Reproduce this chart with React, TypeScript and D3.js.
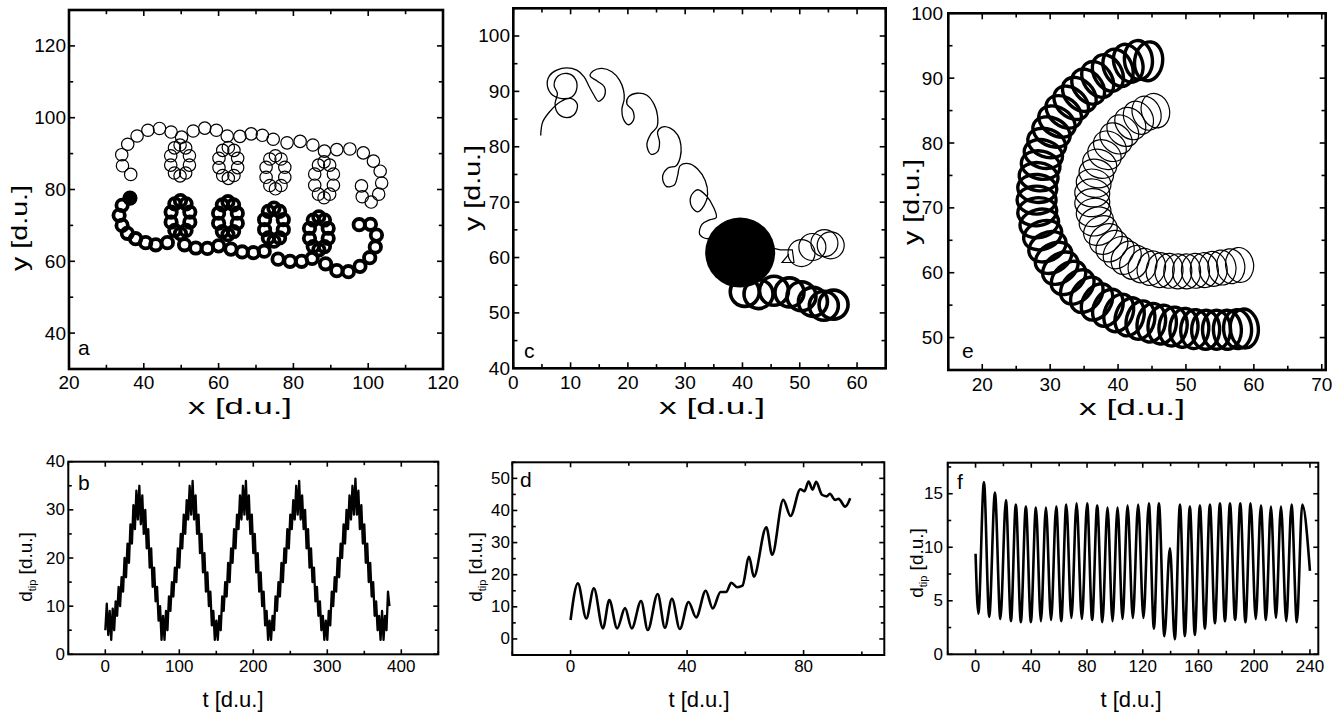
import React from 'react';
import * as d3 from 'd3';

type Pt = [number, number];

const FONT = '"Liberation Sans", Arial, Helvetica, sans-serif';

// ---------- panel a: loop centres of the two tip paths ----------
const aThinLoops: Pt[] = [
  [36.5, 84.2], [34.3, 86.6], [34.1, 89.7], [35.7, 92.6], [38.2, 94.9], [41.1, 96.5], [44.2, 97.0], [47.3, 96.0], [50.1, 94.6],
  [49.7, 92.4], [51.2, 91.6], [52.2, 89.4], [52.2, 86.8], [51.2, 84.6], [49.7, 83.8], [48.2, 84.6], [47.2, 86.8], [47.2, 89.4], [48.2, 91.6],
  [53.2, 96.3], [56.3, 97.1], [59.4, 96.5], [62.3, 94.9],
  [62.6, 91.7], [64.1, 90.9], [65.1, 88.7], [65.1, 86.1], [64.1, 83.9], [62.6, 83.1], [61.1, 83.9], [60.1, 86.1], [60.1, 88.7], [61.1, 90.9],
  [65.7, 94.8], [68.7, 95.5], [71.7, 95.1], [74.6, 94.0],
  [75.2, 89.4], [76.7, 88.5], [77.7, 86.2], [77.7, 83.4], [76.7, 81.1], [75.2, 80.2], [73.7, 81.1], [72.7, 83.4], [72.7, 86.2], [73.7, 88.5],
  [78.3, 93.0], [81.8, 93.4], [85.2, 92.4], [88.3, 90.7],
  [88.2, 87.7], [89.7, 86.8], [90.7, 84.3], [90.7, 81.2], [89.7, 78.7], [88.2, 77.7], [86.7, 78.7], [85.7, 81.2], [85.7, 84.3], [86.7, 86.8],
  [91.6, 91.1], [95.1, 91.3], [98.7, 90.2], [101.4, 87.9], [103.2, 85.1], [103.6, 81.8], [102.8, 78.7], [100.8, 76.5], [98.4, 78.0], [98.2, 81.0]
];

const aThickStart: Pt = [36.3, 77.6];
const aThickLoops: Pt[] = [
  [36.3, 77.6], [34.2, 75.6], [33.4, 72.8], [34.2, 70.0], [35.6, 67.8], [37.8, 66.3], [40.5, 65.2], [43.2, 64.6], [46.3, 65.2],
  [49.8, 67.7], [51.3, 68.6], [52.3, 70.9], [52.3, 73.7], [51.3, 76.0], [49.8, 76.9], [48.3, 76.0], [47.3, 73.7], [47.3, 70.9], [48.3, 68.6],
  [50.9, 64.6], [53.9, 63.7], [57.0, 63.6], [60.0, 64.3],
  [62.5, 67.4], [64.0, 68.3], [65.0, 70.6], [65.0, 73.4], [64.0, 75.7], [62.5, 76.6], [61.0, 75.7], [60.0, 73.4], [60.0, 70.6], [61.0, 68.3],
  [63.3, 63.4], [66.3, 62.6], [69.3, 62.4], [72.2, 62.8],
  [74.8, 65.6], [76.3, 66.5], [77.3, 68.8], [77.3, 71.6], [76.3, 73.9], [74.8, 74.8], [73.3, 73.9], [72.3, 71.6], [72.3, 68.8], [73.3, 66.5],
  [75.9, 60.6], [79.1, 60.0], [82.2, 60.0], [85.0, 60.8],
  [86.8, 63.2], [88.3, 64.1], [89.3, 66.4], [89.3, 69.2], [88.3, 71.5], [86.8, 72.4], [85.3, 71.5], [84.3, 69.2], [84.3, 66.4], [85.3, 64.1],
  [88.6, 59.3], [91.6, 57.4], [94.7, 57.1], [97.8, 58.6], [100.4, 61.0], [101.9, 64.0], [102.2, 67.3], [100.6, 70.3], [97.6, 70.2]
];

// ---------- panel c ----------
const cThinPath: Pt[] = [
  [4.78, 82.04], [5.13, 84.46], [6.3, 86.27], [8.16, 88.09], [10.2, 88.69], [11.19, 87.6], [10.61, 85.79], [9.04, 85.3],
  [7.7, 86.15], [7.29, 87.79], [7.7, 89.6], [7.12, 91.11], [7.87, 92.81], [9.45, 93.23], [10.79, 92.32], [11.08, 90.51],
  [10.2, 89.0], [8.46, 88.69], [6.88, 89.3], [5.95, 91.0], [6.3, 92.81], [7.58, 93.83], [9.33, 94.26], [11.08, 93.83],
  [12.36, 92.63], [13.12, 91.11], [13.99, 89.48], [14.87, 88.21], [15.91, 89.18], [15.86, 90.87], [14.69, 91.84], [13.41, 92.81],
  [13.99, 93.71], [15.45, 94.14], [17.2, 93.53], [18.54, 92.02], [19.24, 90.2], [19.35, 88.57], [18.95, 86.76], [19.24, 84.94],
  [20.11, 83.97], [20.98, 84.82], [20.87, 86.52], [19.82, 87.73], [20.11, 89.0], [21.57, 89.66], [23.32, 89.3], [24.6, 87.6],
  [25.18, 85.55], [25.06, 83.55], [24.02, 82.34], [23.32, 80.34], [24.02, 78.65], [25.18, 79.13], [25.53, 80.83], [25.18, 82.64],
  [25.94, 83.55], [27.4, 83.37], [28.68, 82.16], [29.26, 80.22], [29.14, 78.11], [28.44, 76.59], [26.93, 76.11], [26.05, 74.48],
  [26.7, 72.84], [28.1, 73.09], [28.68, 74.78], [29.14, 76.59], [30.6, 76.96], [32.17, 75.99], [33.51, 73.87], [33.92, 71.45],
  [33.34, 69.46], [32.17, 68.25], [31.12, 69.21], [31.0, 71.03], [32.17, 72.24], [33.69, 71.15], [34.97, 69.03], [35.43, 67.22],
  [34.27, 66.79], [32.93, 66.0], [32.52, 64.19], [33.8, 63.41], [35.55, 64.19], [37.3, 65.1]
];
const cBlob: Pt = [39.6, 60.9];
const cThinTail: Pt[] = [[44.9, 61.8], [46.6, 61.4], [48.7, 61.4], [49.0, 59.1], [46.9, 59.1], [48.1, 60.6]];
const cThinLoops: Pt[] = [[50.3, 60.8], [52.2, 61.9], [54.3, 62.6], [55.4, 62.2]];
const cThickLoops: Pt[] = [[40.4, 53.8], [42.8, 53.4], [45.5, 54.0], [48.2, 53.7], [50.3, 53.0], [52.3, 52.0], [54.2, 51.3], [55.9, 51.5]];

// ---------- panel e ----------
const eThickLoops: Pt[] = [
  [44.5, 92.6], [43.0, 92.8], [41.5, 92.3], [40.0, 91.6], [38.5, 90.8], [37.0, 89.8], [35.6, 88.7], [34.3, 87.5], [33.1, 86.2],
  [32.0, 84.8], [31.0, 83.3], [30.2, 81.7], [29.5, 80.0], [29.0, 78.3], [28.6, 76.6], [28.3, 74.8], [28.1, 73.0], [28.0, 71.2],
  [28.1, 69.4], [28.4, 67.6], [28.9, 65.8], [29.6, 64.0], [30.5, 62.3], [31.5, 60.7], [32.7, 59.2], [34.0, 57.8], [35.4, 56.6],
  [36.9, 55.5], [38.5, 54.6], [40.1, 53.8], [41.7, 53.2], [43.3, 52.7], [44.9, 52.3], [46.5, 52.0], [48.1, 51.7], [49.7, 51.5],
  [51.3, 51.3], [52.9, 51.2], [54.5, 51.2], [56.1, 51.2], [57.6, 51.3], [58.6, 51.4]
];
const eThinLoops: Pt[] = [
  [45.5, 85.0], [44.2, 84.6], [43.0, 83.9], [41.8, 83.0], [40.7, 81.9], [39.7, 80.7], [38.8, 79.5], [38.0, 78.2], [37.3, 76.8],
  [36.8, 75.3], [36.4, 73.8], [36.2, 72.3], [36.2, 70.8], [36.4, 69.3], [36.8, 67.9], [37.4, 66.5], [38.2, 65.2], [39.1, 64.1],
  [40.1, 63.1], [41.2, 62.3], [42.4, 61.6], [43.6, 61.1], [44.9, 60.7], [46.2, 60.4], [47.5, 60.3], [48.8, 60.2], [50.1, 60.2],
  [51.4, 60.3], [52.7, 60.4], [54.0, 60.6], [55.3, 60.8], [56.6, 61.0], [57.9, 61.2]
];

// ---------- panel b: d_tip(t) ----------
const bSeries: Pt[] = [
  [0, 5], [2, 10.5], [4, 4], [6, 9], [8, 3], [10, 9.5], [12, 5], [14, 11], [16, 8], [18, 14], [20, 10], [22, 16], [24, 13], [26, 20],
  [28, 16], [30, 23], [32, 19], [34, 27], [36, 23], [38, 31], [40, 26], [42, 34], [44, 28], [46, 35], [48, 27], [50, 33], [52, 25],
  [54, 30], [56, 22], [58, 26], [60, 18], [62, 22], [64, 14], [66, 18], [68, 11], [70, 14], [72, 7], [74, 10], [76, 3], [78, 8],
  [80, 3], [82, 9], [84, 5], [86, 12], [88, 9], [90, 15], [92, 12], [94, 18], [96, 15], [98, 22], [100, 18], [102, 25], [104, 22],
  [106, 29], [108, 25], [110, 32], [112, 28], [114, 35], [116, 29], [118, 36], [120, 28], [122, 33], [124, 25], [126, 29], [128, 21],
  [130, 25], [132, 17], [134, 21], [136, 13], [138, 17], [140, 10], [142, 13], [144, 6], [146, 9], [148, 3], [150, 7], [152, 3],
  [154, 8], [156, 5], [158, 12], [160, 9], [162, 15], [164, 12], [166, 19], [168, 15], [170, 22], [172, 19], [174, 26], [176, 22],
  [178, 29], [180, 26], [182, 33], [184, 28], [186, 35], [188, 29], [190, 36], [192, 28], [194, 33], [196, 25], [198, 29], [200, 21],
  [202, 25], [204, 17], [206, 21], [208, 13], [210, 17], [212, 10], [214, 13], [216, 6], [218, 9], [220, 3], [222, 7], [224, 3],
  [226, 8], [228, 5], [230, 12], [232, 9], [234, 15], [236, 12], [238, 19], [240, 15], [242, 22], [244, 19], [246, 26], [248, 22],
  [250, 29], [252, 26], [254, 32], [256, 28], [258, 35], [260, 29], [262, 36], [264, 28], [266, 33], [268, 26], [270, 30], [272, 22],
  [274, 26], [276, 18], [278, 22], [280, 15], [282, 18], [284, 11], [286, 14], [288, 8], [290, 11], [292, 5], [294, 8], [296, 3],
  [298, 7], [300, 3], [302, 9], [304, 6], [306, 13], [308, 10], [310, 16], [312, 13], [314, 20], [316, 16], [318, 23], [320, 20],
  [322, 27], [324, 23], [326, 30], [328, 26], [330, 33], [332, 28], [334, 35], [336, 29], [338, 36.5], [340, 29], [342, 34], [344, 26],
  [346, 31], [348, 23], [350, 27], [352, 19], [354, 23], [356, 15], [358, 19], [360, 12], [362, 15], [364, 8], [366, 11], [368, 5],
  [370, 8], [372, 3], [374, 9], [376, 3], [378, 8], [380, 5], [382, 13], [384, 10]
];

// ---------- panel d ----------
const dSeries: Pt[] = [
  [0, 5.9], [2.5, 17.3], [5.4, 6.4], [8, 15.8], [11.1, 3.3], [13.3, 12.1], [16, 3.3], [18.7, 9.6], [21, 3.3], [24.2, 11.8],
  [26.5, 2.8], [29.9, 14], [32.4, 3.5], [34.8, 12.5], [37.5, 3.1], [40.5, 11.5], [43.1, 6.7], [46.4, 15], [48.8, 9.5], [51.5, 14.6],
  [53.4, 14.6], [55.2, 17.5], [57.2, 16.1], [59, 16.6], [61.3, 25.6], [62.9, 19.4], [67.2, 34.8], [69.2, 26.2], [73, 43.3],
  [75.5, 38.3], [78.9, 46.6], [80.3, 46], [81.7, 49], [83.1, 46.5], [84.3, 48.9], [86.3, 44.9], [88, 44.4], [89, 45.2],
  [90.8, 43.3], [92, 43.6], [94.3, 41.2], [96, 43.8]
];

// ---------- panel f ----------
const fSeries: Pt[] = [
  [0, 9.4], [2, 3.8], [6, 16.1], [9.8, 3.5], [13.9, 15.1], [17.8, 3.3], [21.8, 14.4], [25.4, 3.1], [28.9, 14.0], [32.5, 3.0],
  [36.1, 13.8], [39.7, 3.0], [43.3, 13.7], [46.9, 3.1], [50.5, 13.7], [54.2, 3.2], [57.9, 13.8], [61.5, 3.1], [65.1, 14.0],
  [68.8, 3.4], [72.5, 14.1], [76.3, 3.3], [80.1, 14.1], [83.7, 3.2], [87.3, 13.9], [91, 3.0], [94.7, 13.7], [98.3, 3.1],
  [101.9, 13.7], [105.5, 3.3], [109.1, 13.9], [112.9, 3.4], [116.7, 14.0], [120.5, 3.4], [124.4, 14.1], [128, 2.4], [131.6, 14.1],
  [135.5, 1.7], [139.5, 9.9], [143, 1.4], [146.7, 14.0], [150.2, 1.7], [153.8, 13.8], [157.4, 1.8], [161, 13.9], [164.6, 2.4],
  [168.2, 14.0], [171.8, 2.9], [175.4, 14.1], [179, 3.1], [182.6, 14.1], [186.3, 3.2], [190, 14.1], [193.7, 3.0], [197.4, 14.1],
  [201.1, 3.3], [204.8, 13.9], [208.4, 3.2], [212, 13.8], [215.6, 3.4], [219.2, 13.8], [223, 3.1], [226.8, 14.0], [230.6, 3.0],
  [234.5, 14.0], [240, 7.8]
];

// ---------- tick labels ----------
const aXTicks = [20, 40, 60, 80, 100, 120];
const aYTicks = [40, 60, 80, 100, 120];
const cXTicks = [0, 10, 20, 30, 40, 50, 60];
const cYTicks = [40, 50, 60, 70, 80, 90, 100];
const eXTicks = [20, 30, 40, 50, 60, 70];
const eYTicks = [50, 60, 70, 80, 90, 100];
const bXTicks = [0, 100, 200, 300, 400];
const bYTicks = [0, 10, 20, 30, 40];
const dXTicks = [0, 40, 80];
const dYTicks = [0, 10, 20, 30, 40, 50];
const fXTicks = [0, 40, 80, 120, 160, 200, 240];
const fYTicks = [0, 5, 10, 15];

type Lin = d3.ScaleLinear<number, number>;

const Axes = ({ x, y, xMajor, xMinor, yMajor, yMinor, tick, sw, font, xLabelY, yLabelX }: any) => {
  const [xl, xr] = x.range();
  const [yb, yt] = y.range();
  const xs: [number, number][] = [...xMajor.map((v: number) => [v, tick]), ...xMinor.map((v: number) => [v, tick * 0.7])];
  const ys: [number, number][] = [...yMajor.map((v: number) => [v, tick]), ...yMinor.map((v: number) => [v, tick * 0.7])];
  return (
    <g>
      <rect x={xl} y={yt} width={xr - xl} height={yb - yt} fill="none" stroke="#000" strokeWidth={sw} />
      {xs.map(([v, l], i) => (
        <g key={'x' + i} stroke="#000" strokeWidth={1.6}>
          <line x1={x(v)} x2={x(v)} y1={yb} y2={yb - l} />
          <line x1={x(v)} x2={x(v)} y1={yt} y2={yt + l} />
        </g>
      ))}
      {ys.map(([v, l], i) => (
        <g key={'y' + i} stroke="#000" strokeWidth={1.6}>
          <line x1={xl} x2={xl + l} y1={y(v)} y2={y(v)} />
          <line x1={xr} x2={xr - l} y1={y(v)} y2={y(v)} />
        </g>
      ))}
      {xMajor.map((v: number) => (
        <text key={'xl' + v} x={x(v)} y={xLabelY} textAnchor="middle" fontSize={font}>{v}</text>
      ))}
      {yMajor.map((v: number) => (
        <text key={'yl' + v} x={yLabelX} y={y(v)} textAnchor="end" dominantBaseline="central" fontSize={font}>{v}</text>
      ))}
    </g>
  );
};

const Ellipses = ({ pts, x, y, along, perp, sw }: { pts: Pt[]; x: Lin; y: Lin; along: number; perp: number; sw: number }) => (
  <g fill="none" stroke="#000" strokeWidth={sw}>
    {pts.map((p, i) => {
      const a = pts[Math.max(0, i - 1)];
      const b = pts[Math.min(pts.length - 1, i + 1)];
      const ang = (Math.atan2(y(b[1]) - y(a[1]), x(b[0]) - x(a[0])) * 180) / Math.PI;
      return (
        <ellipse key={i} cx={0} cy={0} rx={along} ry={perp}
          transform={`translate(${x(p[0])},${y(p[1])}) rotate(${ang})`} />
      );
    })}
  </g>
);

const XTitle = ({ cx, y, len, size, label }: any) => (
  <text x={cx} y={y} textAnchor="middle" fontSize={size}
    textLength={len} lengthAdjust="spacingAndGlyphs">{label}</text>
);

const YTitle = ({ x, cy, len, size, label }: any) => (
  <text transform={`translate(${x},${cy}) rotate(-90)`} textAnchor="middle" fontSize={size}
    textLength={len} lengthAdjust="spacingAndGlyphs">{label}</text>
);

const DTipTitle = ({ x, cy }: { x: number; cy: number }) => (
  <text transform={`translate(${x},${cy}) rotate(-90)`} textAnchor="middle" fontSize={19}>
    <tspan>d</tspan>
    <tspan fontSize={11} dy={4}>tip</tspan>
    <tspan dy={-4}> [d.u.]</tspan>
  </text>
);

export default function App() {
  // top row scales
  const ax = d3.scaleLinear().domain([20, 120]).range([69, 443]);
  const ay = d3.scaleLinear().domain([30, 130]).range([369, 10]);
  const cx = d3.scaleLinear().domain([0, 65]).range([513.3, 885.7]);
  const cy = d3.scaleLinear().domain([40, 105]).range([368.3, 8.3]);
  const ex = d3.scaleLinear().domain([15, 70.58]).range([948.3, 1325.7]);
  const ey = d3.scaleLinear().domain([45, 100]).range([370, 13.3]);
  // bottom row scales
  const bx = d3.scaleLinear().domain([-50, 450]).range([68.3, 438.3]);
  const by = d3.scaleLinear().domain([0, 40]).range([654.3, 461.7]);
  const dx = d3.scaleLinear().domain([-20, 107.7]).range([512.3, 884.3]);
  const dy = d3.scaleLinear().domain([-5, 55]).range([655, 462.3]);
  const fx = d3.scaleLinear().domain([-20, 246]).range([947.7, 1318.3]);
  const fy = d3.scaleLinear().domain([0, 17.9]).range([654.3, 462.7]);

  const minor = (major: number[], lo: number, hi: number, step: number) =>
    d3.range(lo, hi + 1e-9, step).filter(v => !major.some(m => Math.abs(m - v) < 1e-9));

  const lineB = d3.line<Pt>().x(p => bx(p[0])).y(p => by(p[1]));
  const lineD = d3.line<Pt>().x(p => dx(p[0])).y(p => dy(p[1])).curve(d3.curveMonotoneX);
  const lineF = d3.line<Pt>().x(p => fx(p[0])).y(p => fy(p[1])).curve(d3.curveMonotoneX);
  const lineC = d3.line<Pt>().x(p => cx(p[0])).y(p => cy(p[1])).curve(d3.curveCatmullRom.alpha(0.5));
  const lineCt = d3.line<Pt>().x(p => cx(p[0])).y(p => cy(p[1]));

  return (
    <svg width={1343} height={715} fontFamily={FONT}
      style={{ position: 'absolute', left: 0, top: 0, display: 'block', background: '#fff' }}>
      <rect width={1343} height={715} fill="#fff" />

      {/* ---- panel a ---- */}
      <g fill="none" stroke="#000">
        {aThinLoops.map((p, i) => (
          <circle key={'at' + i} cx={ax(p[0])} cy={ay(p[1])} r={6.2} strokeWidth={1.2} />
        ))}
        {aThickLoops.map((p, i) => (
          <circle key={'ak' + i} cx={ax(p[0])} cy={ay(p[1])} r={5.7} strokeWidth={3.8} />
        ))}
      </g>
      <circle cx={ax(aThickStart[0])} cy={ay(aThickStart[1])} r={7} fill="#000" />
      <Axes x={ax} y={ay} xMajor={aXTicks} xMinor={minor(aXTicks, 20, 120, 10)}
        yMajor={aYTicks} yMinor={minor(aYTicks, 30, 130, 10)} tick={6} sw={2.6} font={19}
        xLabelY={389} yLabelX={66} />
      <text x={78} y={355} fontSize={21}>a</text>
      <XTitle cx={240} y={414} len={104} size={22} label="x [d.u.]" />
      <YTitle x={27} cy={228} len={86} size={22} label="y [d.u.]" />

      {/* ---- panel c ---- */}
      <path d={lineC(cThinPath) || ''} fill="none" stroke="#000" strokeWidth={1.3} />
      <path d={lineCt(cThinTail) || ''} fill="none" stroke="#000" strokeWidth={1.2} />
      <g fill="none" stroke="#000" strokeWidth={1.2}>
        {cThinLoops.map((p, i) => (
          <circle key={'ct' + i} cx={cx(p[0])} cy={cy(p[1])} r={13.5} />
        ))}
      </g>
      <g fill="none" stroke="#000" strokeWidth={3.6}>
        {cThickLoops.map((p, i) => (
          <circle key={'ck' + i} cx={cx(p[0])} cy={cy(p[1])} r={14.5} />
        ))}
      </g>
      <circle cx={cx(cBlob[0])} cy={cy(cBlob[1])} r={35} fill="#000" />
      <Axes x={cx} y={cy} xMajor={cXTicks} xMinor={minor(cXTicks, 0, 65, 5)}
        yMajor={cYTicks} yMinor={minor(cYTicks, 40, 105, 5)} tick={6} sw={2.6} font={19}
        xLabelY={388.5} yLabelX={510} />
      <text x={524} y={358} fontSize={21}>c</text>
      <XTitle cx={712} y={414} len={106} size={22} label="x [d.u.]" />
      <YTitle x={480} cy={188} len={86} size={22} label="y [d.u.]" />

      {/* ---- panel e ---- */}
      <Ellipses pts={eThinLoops} x={ex} y={ey} along={14} perp={17.5} sw={1.2} />
      <Ellipses pts={eThickLoops} x={ex} y={ey} along={14} perp={19.5} sw={3.4} />
      <Axes x={ex} y={ey} xMajor={eXTicks} xMinor={minor(eXTicks, 15, 70, 5)}
        yMajor={eYTicks} yMinor={minor(eYTicks, 45, 100, 5)} tick={6} sw={2.6} font={19}
        xLabelY={391} yLabelX={943} />
      <text x={962} y={358} fontSize={21}>e</text>
      <XTitle cx={1132} y={415} len={106} size={22} label="x [d.u.]" />
      <YTitle x={919} cy={202} len={86} size={22} label="y [d.u.]" />

      {/* ---- panel b ---- */}
      <path d={lineB(bSeries) || ''} fill="none" stroke="#000" strokeWidth={2.3} strokeLinejoin="round" />
      <Axes x={bx} y={by} xMajor={bXTicks} xMinor={minor(bXTicks, -50, 450, 50)}
        yMajor={bYTicks} yMinor={minor(bYTicks, 0, 40, 5)} tick={5} sw={2} font={17}
        xLabelY={672} yLabelX={65} />
      <text x={78} y={490} fontSize={21}>b</text>
      <text x={233} y={707} textAnchor="middle" fontSize={22}>t [d.u.]</text>
      <DTipTitle x={32} cy={567} />

      {/* ---- panel d ---- */}
      <path d={lineD(dSeries) || ''} fill="none" stroke="#000" strokeWidth={2.6} />
      <Axes x={dx} y={dy} xMajor={dXTicks} xMinor={minor(dXTicks, -20, 100, 20)}
        yMajor={dYTicks} yMinor={minor(dYTicks, -5, 55, 5)} tick={5} sw={2} font={17}
        xLabelY={672} yLabelX={510} />
      <text x={520} y={487} fontSize={21}>d</text>
      <text x={699} y={707} textAnchor="middle" fontSize={22}>t [d.u.]</text>
      <DTipTitle x={482} cy={567} />

      {/* ---- panel f ---- */}
      <path d={lineF(fSeries) || ''} fill="none" stroke="#000" strokeWidth={2.6} />
      <Axes x={fx} y={fy} xMajor={fXTicks} xMinor={minor(fXTicks, -20, 240, 20)}
        yMajor={fYTicks} yMinor={minor(fYTicks, 0, 17.5, 2.5)} tick={5} sw={2} font={17}
        xLabelY={672} yLabelX={943} />
      <text x={957} y={489} fontSize={21}>f</text>
      <text x={1131} y={707} textAnchor="middle" fontSize={22}>t [d.u.]</text>
      <DTipTitle x={923} cy={563} />
    </svg>
  );
}
